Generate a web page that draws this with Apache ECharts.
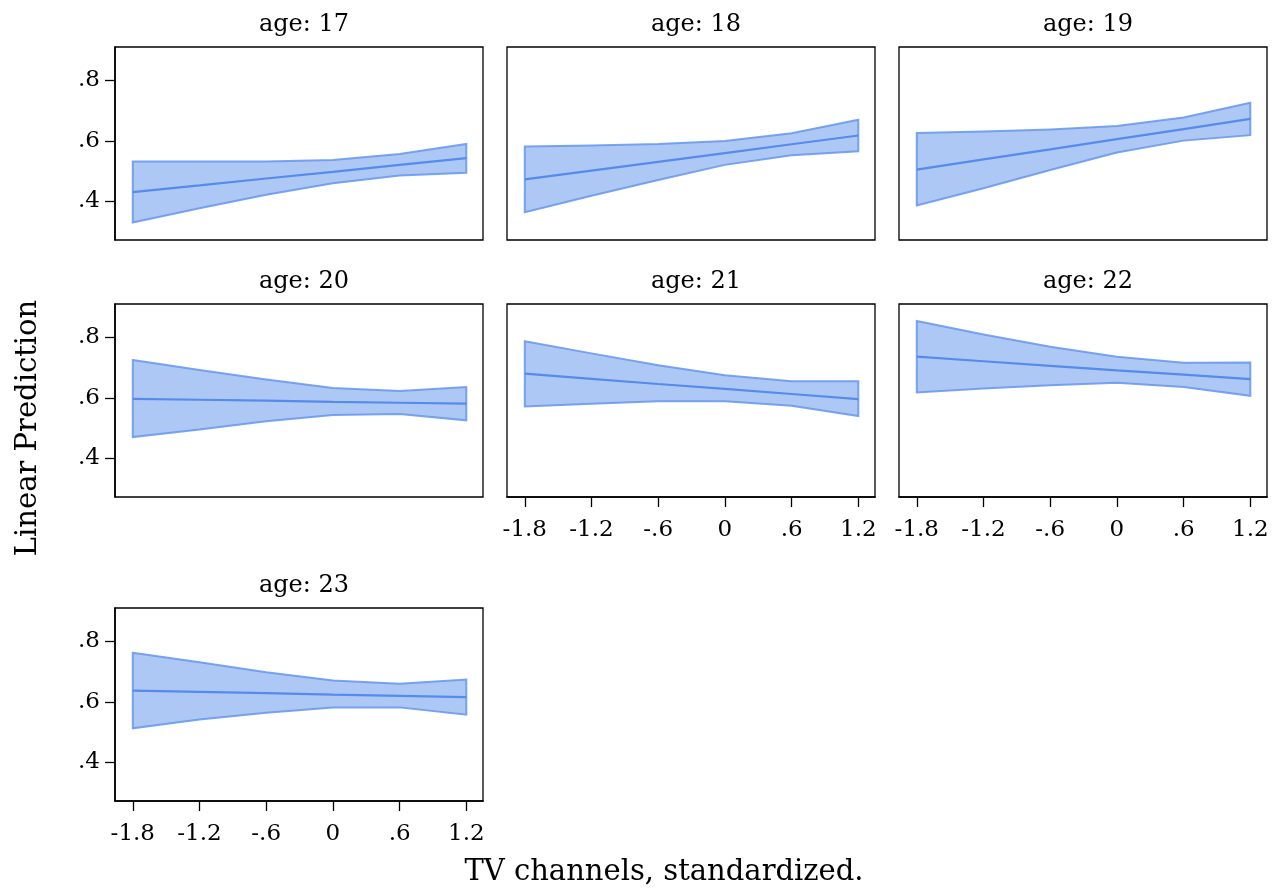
<!DOCTYPE html>
<html><head><meta charset="utf-8">
<script src="https://cdn.jsdelivr.net/npm/echarts@6/dist/echarts.min.js"></script>
<style>html,body{margin:0;padding:0;background:#fff}#c{width:1280px;height:892px}</style>
</head><body><div id="c"></div>
<script>
// ---- data ----
const xValues = [-1.8, -1.2, -0.6, 0, 0.6, 1.2];
const xTickLabels = ['-1.8', '-1.2', '-.6', '0', '.6', '1.2'];
const yTickValues = [0.4, 0.6, 0.8];
const yTickLabels = ['.4', '.6', '.8'];
const panelTitles = ['age: 17', 'age: 18', 'age: 19', 'age: 20', 'age: 21', 'age: 22', 'age: 23'];

const fit17 = [0.431, 0.453, 0.476, 0.498, 0.521, 0.543];
const lo17  = [0.331, 0.378, 0.422, 0.460, 0.486, 0.495];
const hi17  = [0.532, 0.532, 0.532, 0.537, 0.557, 0.590];

const fit18 = [0.473, 0.502, 0.531, 0.560, 0.589, 0.618];
const lo18  = [0.365, 0.419, 0.471, 0.521, 0.553, 0.566];
const hi18  = [0.582, 0.585, 0.590, 0.600, 0.625, 0.670];

const fit19 = [0.505, 0.539, 0.572, 0.606, 0.639, 0.673];
const lo19  = [0.387, 0.444, 0.504, 0.562, 0.601, 0.619];
const hi19  = [0.626, 0.631, 0.638, 0.649, 0.677, 0.726];

const fit20 = [0.597, 0.594, 0.591, 0.587, 0.584, 0.581];
const lo20  = [0.471, 0.496, 0.523, 0.544, 0.547, 0.526];
const hi20  = [0.725, 0.692, 0.661, 0.633, 0.623, 0.636];

const fit21 = [0.680, 0.663, 0.646, 0.630, 0.613, 0.596];
const lo21  = [0.572, 0.581, 0.589, 0.589, 0.574, 0.540];
const hi21  = [0.787, 0.747, 0.708, 0.675, 0.655, 0.655];

const fit22 = [0.736, 0.721, 0.706, 0.691, 0.677, 0.662];
const lo22  = [0.618, 0.631, 0.642, 0.650, 0.636, 0.607];
const hi22  = [0.854, 0.809, 0.769, 0.736, 0.716, 0.717];

const fit23 = [0.637, 0.633, 0.629, 0.624, 0.620, 0.616];
const lo23  = [0.513, 0.542, 0.564, 0.582, 0.582, 0.558];
const hi23  = [0.762, 0.731, 0.698, 0.671, 0.660, 0.674];

const fits = [fit17, fit18, fit19, fit20, fit21, fit22, fit23];
const los  = [lo17, lo18, lo19, lo20, lo21, lo22, lo23];
const his  = [hi17, hi18, hi19, hi20, hi21, hi22, hi23];

const yAxisTitle = 'Linear Prediction';
const xAxisTitle = 'TV channels, standardized.';

// ---- layout ----
const FONT = '"DejaVu Serif", "Liberation Serif", serif';
const colLeft = [115, 507, 899];
const rowTop = [47, 304, 608];
const titleTop = [8, 265, 569];
const PW = 368, PH = 193;

function lbl(vals, labels) {
  return function (v) {
    for (let k = 0; k < vals.length; k++) if (Math.abs(v - vals[k]) < 1e-9) return labels[k];
    return '';
  };
}

const grids = [], xAxes = [], yAxes = [], series = [], titles = [];
panelTitles.forEach((t, i) => {
  const col = i % 3, row = Math.floor(i / 3);
  const showY = col === 0;
  const showX = i >= 4;
  grids.push({left: colLeft[col], top: rowTop[row], width: PW, height: PH,
    show: true, borderColor: '#000', borderWidth: 1.3, backgroundColor: '#fff', containLabel: false});
  titles.push({text: t, left: colLeft[col] + PW / 2, top: titleTop[row], textAlign: 'center',
    textStyle: {fontFamily: FONT, fontSize: 24, fontWeight: 'normal', color: '#000'}});
  xAxes.push({type: 'value', gridIndex: i, min: -1.96, max: 1.35,
    splitLine: {show: false},
    axisLine: {show: showX, onZero: false, lineStyle: {color: '#000', width: 1.6}},
    axisTick: {show: showX, customValues: xValues, length: 10, lineStyle: {color: '#000', width: 1.3}},
    axisLabel: {show: showX, customValues: xValues, formatter: lbl(xValues, xTickLabels),
      fontFamily: FONT, fontSize: 23, color: '#000', margin: 22}});
  yAxes.push({type: 'value', gridIndex: i, min: 0.273, max: 0.91,
    splitLine: {show: false},
    axisLine: {show: showY, onZero: false, lineStyle: {color: '#000', width: 1.6}},
    axisTick: {show: showY, customValues: yTickValues, length: 10, lineStyle: {color: '#000', width: 1.3}},
    axisLabel: {show: showY, customValues: yTickValues, formatter: lbl(yTickValues, yTickLabels),
      fontFamily: FONT, fontSize: 23, color: '#000', margin: 15}});
  const lo = los[i], hi = his[i], fit = fits[i];
  series.push({type: 'custom', xAxisIndex: i, yAxisIndex: i, silent: true, z: 1,
    data: xValues.map((x, k) => [x, lo[k], hi[k]]),
    renderItem: function (params, api) {
      if (params.dataIndex !== 0) return null;
      const pts = [];
      for (let k = 0; k < xValues.length; k++) pts.push(api.coord([xValues[k], hi[k]]));
      for (let k = xValues.length - 1; k >= 0; k--) pts.push(api.coord([xValues[k], lo[k]]));
      return {type: 'polygon', shape: {points: pts},
        style: {fill: 'rgba(100,149,237,0.52)', stroke: 'rgba(100,149,237,0.85)', lineWidth: 2}};
    }});
  series.push({type: 'line', xAxisIndex: i, yAxisIndex: i, z: 3, silent: true,
    data: xValues.map((x, k) => [x, fit[k]]), symbol: 'none',
    lineStyle: {color: '#548bec', width: 2.2}});
});

const chart = echarts.init(document.getElementById('c'), null, {renderer: 'canvas'});
chart.setOption({
  backgroundColor: '#fff',
  animation: false,
  title: titles,
  grid: grids, xAxis: xAxes, yAxis: yAxes, series: series,
  graphic: [
    {type: 'text', x: 28, y: 428, rotation: Math.PI / 2,
      style: {text: yAxisTitle, font: '29px ' + FONT, fill: '#000', textAlign: 'center', textVerticalAlign: 'middle'}},
    {type: 'text', x: 664, y: 872,
      style: {text: xAxisTitle, font: '29px ' + FONT, fill: '#000', textAlign: 'center', textVerticalAlign: 'middle'}}
  ]
});
</script></body></html>
